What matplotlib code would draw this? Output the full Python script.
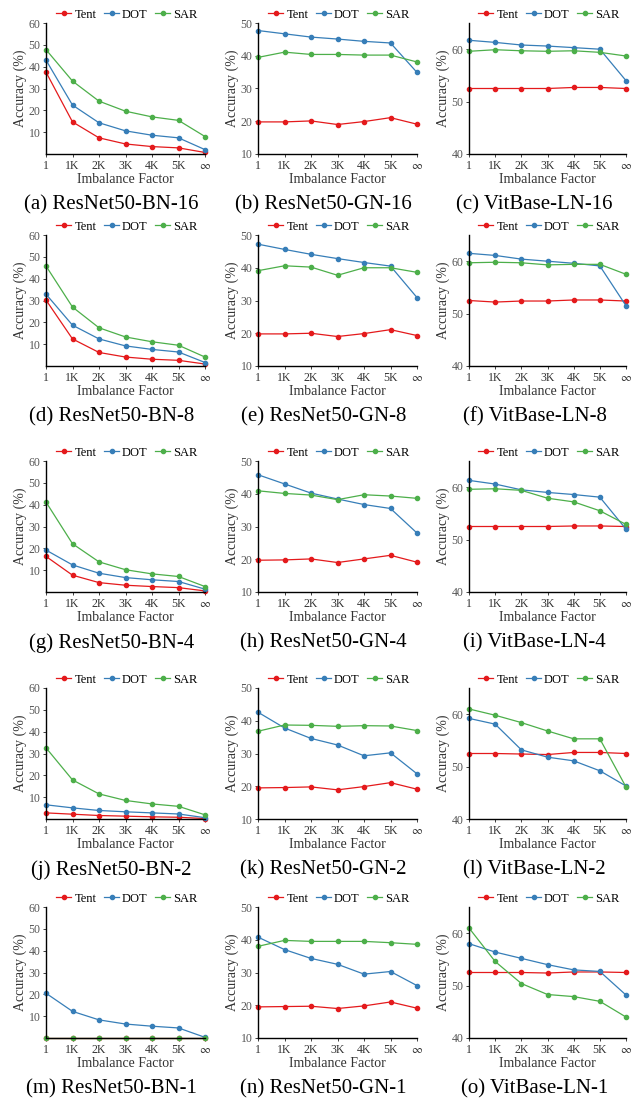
import numpy as np
import matplotlib.pyplot as plt

plt.rcParams['font.family'] = ['Liberation Serif', 'DejaVu Serif']
plt.rcParams['mathtext.fontset'] = 'stix'

factors = ['1', '1K', '2K', '3K', '4K', '5K', r'$\infty$']
methods = ['Tent', 'DOT', 'SAR']
colors = ['#e41a1c', '#377eb8', '#4daf4a']

captions = [
    '(a) ResNet50-BN-16', '(b) ResNet50-GN-16', '(c) VitBase-LN-16',
    '(d) ResNet50-BN-8', '(e) ResNet50-GN-8', '(f) VitBase-LN-8',
    '(g) ResNet50-BN-4', '(h) ResNet50-GN-4', '(i) VitBase-LN-4',
    '(j) ResNet50-BN-2', '(k) ResNet50-GN-2', '(l) VitBase-LN-2',
    '(m) ResNet50-BN-1', '(n) ResNet50-GN-1', '(o) VitBase-LN-1',
]

# accuracy (%) per panel: Tent, DOT, SAR
bn16 = [[37.5, 14.7, 7.4, 4.6, 3.4, 2.8, 0.7],
        [43.0, 22.4, 14.3, 10.6, 8.6, 7.4, 2.0],
        [47.8, 33.4, 24.2, 19.6, 17.0, 15.4, 8.0]]
gn16 = [[19.8, 19.8, 20.1, 19.0, 19.9, 21.1, 19.1],
        [47.7, 46.7, 45.7, 45.1, 44.4, 43.9, 34.9],
        [39.5, 41.1, 40.4, 40.4, 40.2, 40.2, 38.1]]
vit16 = [[52.5, 52.5, 52.5, 52.5, 52.7, 52.7, 52.5],
         [61.7, 61.3, 60.8, 60.6, 60.3, 60.0, 54.0],
         [59.6, 59.9, 59.7, 59.6, 59.7, 59.4, 58.7]]

bn8 = [[30.2, 12.4, 6.2, 4.1, 3.1, 2.6, 0.9],
       [32.9, 18.7, 12.4, 9.2, 7.6, 6.4, 1.6],
       [45.8, 27.0, 17.5, 13.3, 11.1, 9.5, 4.1]]
gn8 = [[19.8, 19.8, 20.0, 19.0, 19.9, 21.1, 19.3],
       [47.2, 45.6, 44.1, 42.8, 41.6, 40.5, 30.9],
       [39.1, 40.6, 40.2, 37.7, 40.0, 40.0, 38.6]]
vit8 = [[52.5, 52.2, 52.4, 52.4, 52.6, 52.6, 52.4],
        [61.5, 61.1, 60.4, 60.0, 59.6, 59.1, 51.5],
        [59.7, 59.8, 59.7, 59.3, 59.4, 59.4, 57.5]]

bn4 = [[16.3, 7.7, 4.3, 3.1, 2.5, 2.0, 0.5],
       [19.2, 12.4, 8.6, 6.6, 5.6, 4.8, 1.3],
       [41.2, 22.1, 13.8, 10.2, 8.3, 7.1, 2.5]]
gn4 = [[19.7, 19.8, 20.1, 19.0, 20.1, 21.2, 19.1],
       [45.8, 43.0, 40.2, 38.4, 36.7, 35.5, 28.0],
       [40.9, 40.1, 39.6, 38.2, 39.7, 39.3, 38.6]]
vit4 = [[52.5, 52.5, 52.5, 52.5, 52.6, 52.6, 52.5],
        [61.3, 60.6, 59.5, 59.0, 58.6, 58.1, 52.0],
        [59.6, 59.7, 59.4, 57.9, 57.2, 55.5, 52.9]]

bn2 = [[2.8, 2.2, 1.6, 1.3, 1.0, 0.8, 0.2],
       [6.5, 5.1, 3.9, 3.3, 2.8, 2.3, 0.6],
       [32.6, 17.9, 11.5, 8.5, 6.9, 5.8, 1.9]]
gn2 = [[19.5, 19.6, 19.8, 18.9, 19.9, 21.1, 19.1],
       [42.6, 37.8, 34.6, 32.6, 29.3, 30.2, 23.8],
       [36.8, 38.7, 38.6, 38.3, 38.5, 38.4, 37.0]]
vit2 = [[52.5, 52.5, 52.4, 52.3, 52.7, 52.7, 52.5],
        [59.2, 58.1, 53.2, 51.8, 51.1, 49.2, 46.3],
        [61.0, 59.8, 58.4, 56.8, 55.3, 55.3, 46.1]]

bn1 = [[0.2, 0.2, 0.2, 0.2, 0.2, 0.2, 0.2],
       [20.5, 12.2, 8.3, 6.4, 5.4, 4.6, 0.3],
       [0.2, 0.2, 0.2, 0.2, 0.2, 0.2, 0.2]]
gn1 = [[19.5, 19.6, 19.7, 19.0, 19.8, 21.0, 19.1],
       [40.8, 37.0, 34.3, 32.5, 29.5, 30.3, 26.0],
       [38.0, 39.8, 39.5, 39.5, 39.5, 39.1, 38.6]]
vit1 = [[52.5, 52.5, 52.5, 52.4, 52.6, 52.6, 52.5],
        [58.0, 56.4, 55.2, 54.0, 53.0, 52.7, 48.2],
        [61.0, 54.6, 50.4, 48.3, 47.9, 47.0, 44.0]]

panels = [bn16, gn16, vit16, bn8, gn8, vit8, bn4, gn4, vit4,
          bn2, gn2, vit2, bn1, gn1, vit1]

# y range and ticks per column: BN, GN, ViT
ylims = [(0, 60), (10, 50), (40, 65)]
yticks = [[10, 20, 30, 40, 50, 60], [10, 20, 30, 40, 50], [40, 50, 60]]

W, H = 631, 1107
fig = plt.figure(figsize=(W/100, H/100), dpi=100)

col_left = [46, 258, 469]
row_top = [23, 235, 461, 688, 907]
ax_w, ax_h = 159, 131

x = np.arange(len(factors))

for k, data in enumerate(panels):
    r, c = divmod(k, 3)
    left = col_left[c]
    top = row_top[r]
    w = ax_w - 2 if c == 2 else ax_w
    ax = fig.add_axes([left/W, 1 - (top + ax_h)/H, w/W, ax_h/H])

    for m in range(3):
        ax.plot(x, data[m], color=colors[m], marker='o', markersize=3,
                linewidth=0.9, label=methods[m], clip_on=False)

    ax.set_xlim(0, 6)
    ax.set_ylim(*ylims[c])
    ax.set_yticks(yticks[c])
    ax.set_xticks(x)
    ax.set_xticklabels(factors)
    ax.get_xticklabels()[-1].set_fontsize(12)
    ax.tick_params(labelsize=8.5, length=2, width=0.6, pad=2, colors='#222222')
    ax.tick_params(axis='y', labelcolor='#555555')
    ax.tick_params(axis='x', labelcolor='#333333')
    for s in ['top', 'right']:
        ax.spines[s].set_visible(False)
    for s in ['left', 'bottom']:
        ax.spines[s].set_linewidth(1.0)

    ax.set_xlabel('Imbalance Factor', fontsize=10, labelpad=1, color='#333333')
    ax.set_ylabel('Accuracy (%)', fontsize=10, labelpad=1, color='#333333')

    ax.legend(loc='lower center', bbox_to_anchor=(0.51, 0.99), ncol=3,
              frameon=False, fontsize=9, handlelength=1.2, handletextpad=0.25,
              columnspacing=0.6, borderaxespad=0.1, borderpad=0.2)

    fig.text((left + ax_w/2 - 14)/W, 1 - (top + ax_h + 51)/H, captions[k],
             fontsize=15, ha='center', va='center')

fig.savefig('out.png', dpi=100)
